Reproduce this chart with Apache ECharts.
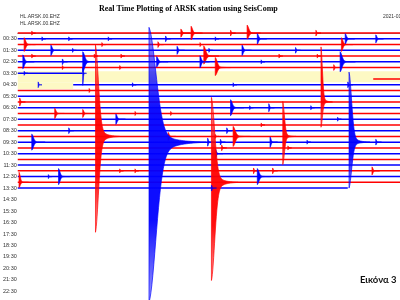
<!DOCTYPE html>
<html><head><meta charset="utf-8">
<script src="https://cdn.jsdelivr.net/npm/echarts@6/dist/echarts.min.js"></script>
<style>html,body{margin:0;padding:0;background:#fff;overflow:hidden}#c{width:400px;height:300px}</style>
</head><body><div id="c"></div>
<script>
// tick labels for odd (":30") rows
const timeLabels = ['00:30','01:30','02:30','03:30','04:30','05:30','06:30','07:30','08:30','09:30','10:30','11:30',
  '12:30','13:30','14:30','15:30','16:30','17:30','18:30','19:30','20:30','21:30','22:30'];
// trace rows: [row, startMinute, endMinute]
const traceRows = [
  [0,0,30],[1,0,30],[2,0,30],[3,0,30],[4,0,30],[5,0,30],[6,0,30],[7,0,5.1],[8,27.9,30],[9,4.35,30],
  [10,0,30],[11,0,30],[12,0,30],[13,0,30],[14,0,30],[15,0,30],[16,0,30],[17,0,30],[18,0,30],[19,0,30],
  [20,0,30],[21,0,30],[22,0,30],[23,0,30],[24,0,30],[25,0,30],[26,0,30],[27,0,25.9]
];
// data gaps: [rowTop, rowBottom, startMinute, endMinute]
const gaps = [[6.65,8.55,0,30],[8.55,9.75,0,4.35]];
// seismic events: [row, onsetMinute, ampUp(rows), ampDown(rows), durationMinutes]
const events = [
  [0,1.1,0.35,0.35,0.3],[0,12.8,0.7,0.7,0.75],[0,13.6,1.2,1.2,0.9],[0,16.7,0.5,0.5,0.4],[0,18.0,1.4,1.05,1.05],[0,23.4,0.5,0.5,0.4],
  [1,1.9,0.35,0.35,0.3],[1,4.0,0.35,0.35,0.3],[1,7.1,0.35,0.35,0.3],[1,11.6,0.5,0.5,0.4],[1,15.5,0.35,0.35,0.3],[1,18.8,0.9,0.9,0.75],[1,25.7,0.9,0.9,0.75],[1,28.1,0.7,0.7,0.6],
  [2,0.5,1.2,1.2,0.9],[2,6.6,0.35,0.35,0.3],[2,11.0,0.5,0.5,0.45],[2,14.3,0.35,0.35,0.3],[2,25.4,1.2,1.2,0.9],
  [3,2.6,0.9,0.9,0.75],[3,4.3,0.35,0.35,0.3],[3,12.5,0.7,0.7,0.6],[3,15.0,0.35,0.35,0.3],[3,17.6,0.9,0.9,0.75],[3,21.8,0.5,0.5,0.4],
  [4,1.1,0.35,0.35,0.3],[4,6.0,0.35,0.35,0.3],[4,8.1,0.35,0.35,0.3],[4,14.6,1.75,1.4,1.2],[4,20.5,0.35,0.35,0.3],[4,23.5,0.35,0.35,0.3],
  [5,0.4,1.2,1.2,0.9],[5,3.5,0.5,0.5,0.4],[5,5.1,1.75,1.75,1.2],[5,10.9,0.9,0.9,0.9],[5,14.3,1.05,1.05,0.75],[5,19.1,0.35,0.35,0.3],[5,25.3,1.75,1.75,1.2],
  [6,3.5,0.35,0.35,0.3],[6,8.0,0.35,0.35,0.3],[6,15.5,1.75,1.4,1.2],[6,24.8,0.5,0.5,0.4],
  [7,0.5,0.35,0.35,0.3],[7,5.1,1.0,2.1,0.3],
  [9,1.6,0.5,0.5,0.3],[9,9.0,0.35,0.35,0.3],[9,16.9,0.35,0.35,0.3],[9,25.9,0.5,0.5,0.4],
  [10,5.6,0.35,0.35,0.3],
  [12,0.15,0.7,0.7,0.45],[12,23.8,9.6,4.4,0.9],
  [13,16.7,1.4,1.4,1.05],[13,18.2,0.35,0.35,0.3],[13,19.7,0.7,0.7,0.45],[13,23.0,0.35,0.35,0.3],
  [14,2.9,0.9,0.9,0.75],[14,5.1,0.7,0.7,0.6],[14,9.2,0.35,0.35,0.3],[14,12.0,0.35,0.35,0.3],
  [15,7.7,0.9,0.9,0.75],[15,25.1,0.35,0.35,0.3],
  [16,19.1,0.35,0.35,0.3],
  [17,4.0,0.5,0.5,0.4],[17,16.4,0.5,0.5,0.4],
  [18,6.1,15.9,16.7,1.9],[18,11.8,0.7,0.7,0.6],[18,15.5,0.35,0.35,0.3],[18,16.9,1.75,1.75,1.35],[18,20.8,6.1,4.9,1.05],
  [19,1.1,1.4,1.4,1.05],[19,10.3,20.0,27.9,4.5],[19,14.9,0.7,0.7,0.45],[19,15.9,0.5,0.5,0.4],[19,19.8,0.9,0.9,0.6],[19,22.7,0.35,0.35,0.3],[19,26.0,12.2,8.0,1.65],[19,28.1,0.5,0.5,0.45],
  [20,16.0,0.5,0.5,0.4],[20,21.2,0.35,0.35,0.3],
  [21,15.5,0.9,0.9,0.6],
  [24,8.0,0.35,0.35,0.3],[24,9.2,0.35,0.35,0.3],[24,18.5,0.5,0.5,0.4],[24,20.0,0.5,0.5,0.4],[24,27.8,0.7,0.7,0.6],
  [25,2.4,0.35,0.35,0.3],[25,3.2,1.4,1.4,0.9],[25,18.8,1.4,1.4,1.05],
  [26,0.1,1.75,0.9,0.75],[26,15.2,14.8,17.1,2.1],
  [27,15.2,0.5,0.5,0.4]
];

const RED = '#ff0000', BLUE = '#0000ff';
const colorOf = r => (r % 2 === 0 ? RED : BLUE);
const rgba = (c, a) => c === RED ? 'rgba(255,0,0,' + a + ')' : 'rgba(0,0,255,' + a + ')';

const chart = echarts.init(document.getElementById('c'), null, {renderer: 'canvas'});

// envelope shape of a seismogram burst (fraction of peak amplitude at time t of duration dur)
function env(t, dur) {
  const u = t / dur;
  const main = 0.85 * Math.exp(-Math.pow(u / 0.18, 2));
  const coda = 0.15 * Math.exp(-u / 0.3);
  return (main + coda) * Math.sqrt(Math.max(0, 1 - u));
}

chart.setOption({
  animation: false,
  backgroundColor: '#ffffff',
  title: [
    {text: 'Real Time Plotting of ARSK station using SeisComp', left: 94, top: 0,
     textStyle: {fontFamily: 'Liberation Serif', fontWeight: 'bold', fontSize: 8, color: '#000'}},
    {text: 'HL.ARSK.00.EHZ', left: 15, top: 9, textStyle: {fontFamily: 'Liberation Sans', fontWeight: 'normal', fontSize: 5, color: '#333'}},
    {text: 'HL.ARSK.00.EHZ', left: 15, top: 16, textStyle: {fontFamily: 'Liberation Sans', fontWeight: 'normal', fontSize: 5, color: '#333'}},
    {text: '2021-01-1', left: 378, top: 9, textStyle: {fontFamily: 'Liberation Sans', fontWeight: 'normal', fontSize: 5, color: '#333'}},
    {text: 'Εικόνα 3', left: 355, top: 270, textStyle: {fontFamily: 'Lato', fontWeight: 'bold', fontSize: 9.5, color: '#111'}}
  ],
  grid: {left: 15, top: 24.5, width: 400, height: 275.5, containLabel: false},
  xAxis: {type: 'value', min: 0, max: 30, position: 'top',
    axisLine: {show: true, lineStyle: {color: '#8a8a8a', width: 1}},
    axisTick: {show: false}, axisLabel: {show: false}, splitLine: {show: false}},
  yAxis: {type: 'value', inverse: true, min: -1.5, max: 46.5, interval: 0.5,
    axisLine: {show: false}, axisTick: {show: false}, splitLine: {show: false},
    axisLabel: {show: true, margin: 1, fontSize: 5.5, fontFamily: 'Liberation Sans', color: '#333',
      formatter: v => (Number.isInteger(v) && v % 2 === 1) ? (timeLabels[(v - 1) / 2] || '') : ''}},
  series: [
    {type: 'custom', name: 'gaps', clip: true, z: 1, data: gaps,
     renderItem: (params, api) => {
       const p1 = api.coord([api.value(2), api.value(0)]);
       const p2 = api.coord([api.value(3), api.value(1)]);
       return {type: 'rect', shape: {x: p1[0], y: p1[1], width: p2[0] - p1[0], height: p2[1] - p1[1]},
         style: {fill: '#fdf9c4'}};
     }},
    {type: 'custom', name: 'traces', clip: true, z: 2, data: traceRows,
     renderItem: (params, api) => {
       const r = api.value(0);
       const p1 = api.coord([api.value(1), r]);
       const p2 = api.coord([api.value(2), r]);
       return {type: 'line', shape: {x1: p1[0], y1: p1[1], x2: p2[0], y2: p2[1]},
         style: {stroke: colorOf(r), lineWidth: 1.5}};
     }},
    {type: 'custom', name: 'events', clip: true, z: 3, data: events,
     renderItem: (params, api) => {
       const r = api.value(0), m = api.value(1), up = api.value(2), dn = api.value(3), dur = api.value(4);
       const N = 60, top = [], bot = [];
       for (let i = 0; i <= N; i++) {
         const t = dur * i / N, e = env(t, dur);
         top.push(api.coord([m + t, r - up * e]));
         bot.push(api.coord([m + t, r + dn * e]));
       }
       const pts = top.concat(bot.reverse());
       const c = colorOf(r);
       const big = up + dn > 6;
       const fill = big ? new echarts.graphic.LinearGradient(0, 0, 0, 1, [
           {offset: 0, color: rgba(c, 0.4)}, {offset: 0.3, color: rgba(c, 0.95)},
           {offset: 0.7, color: rgba(c, 0.95)}, {offset: 1, color: rgba(c, 0.4)}]) : c;
       return {type: 'polygon', shape: {points: pts}, style: {fill: fill, stroke: c, lineWidth: 0.8, strokeOpacity: 0.85}};
     }}
  ]
});
</script>
</body></html>
